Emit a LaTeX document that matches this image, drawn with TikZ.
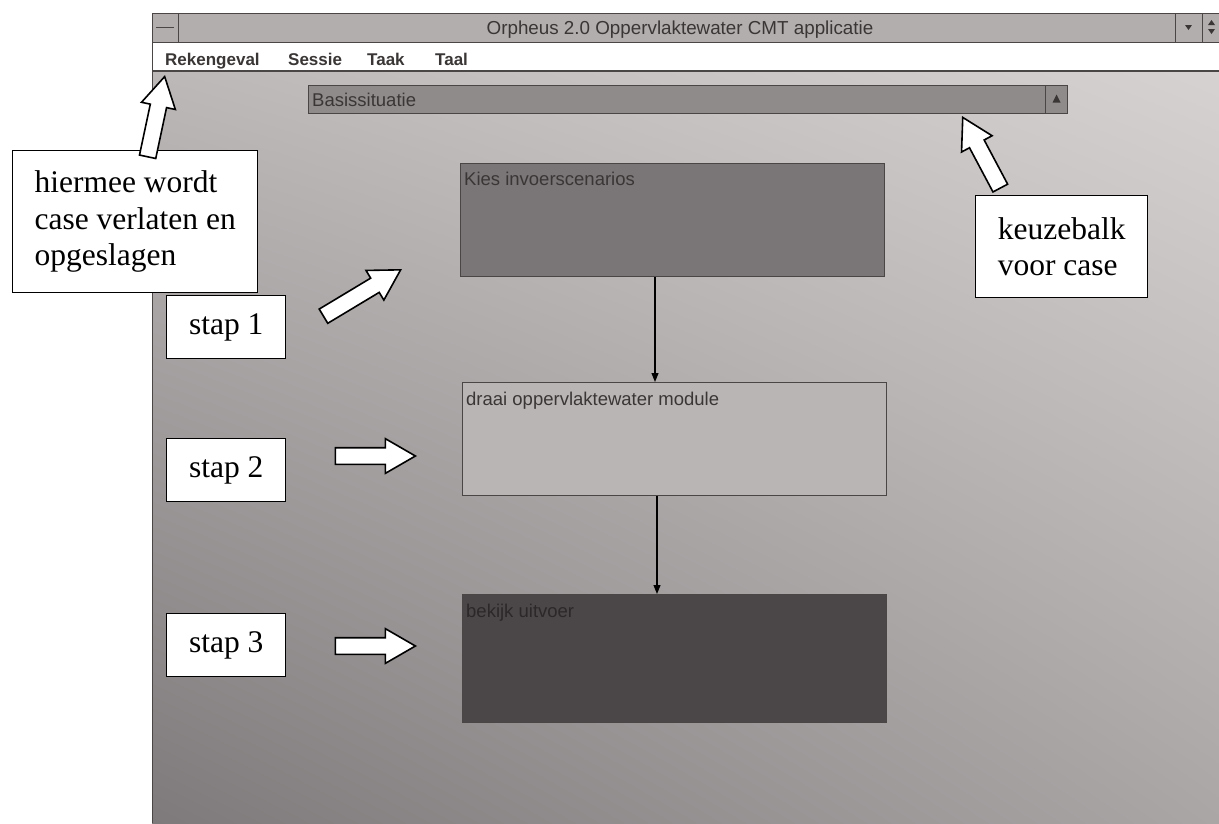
\documentclass[tikz,border=0pt]{standalone}
\usepackage{fontspec}
\setmainfont{Liberation Serif}
\newfontfamily\uifont{Liberation Sans}
\usetikzlibrary{shapes.arrows,arrows.meta,shadings}

\definecolor{deskTL}{HTML}{BDB8B8}
\definecolor{deskTR}{HTML}{D6D2D1}
\definecolor{deskBL}{HTML}{7E797A}
\definecolor{deskBR}{HTML}{ABA6A6}
\definecolor{titlegray}{HTML}{B2AEAE}
\definecolor{framegray}{HTML}{4A4646}
\definecolor{uitext}{HTML}{3A3636}
\definecolor{barfill}{HTML}{8F8B8B}
\definecolor{kiesfill}{HTML}{7A7677}
\definecolor{draaifill}{HTML}{BAB5B5}
\definecolor{uitvfill}{HTML}{4B4748}
\definecolor{uitvtext}{HTML}{2C2829}

\tikzset{
  frame/.style={draw=framegray, line width=1pt},
  menuitem/.style={anchor=base west, inner sep=0pt, text=uitext,
    font=\uifont\fontsize{17}{20}\selectfont\bfseries},
  taskbox/.style={draw=framegray, line width=1pt, anchor=north west,
    minimum width=424pt, minimum height=113pt, inner sep=0pt},
  tasklabel/.style={anchor=base west, inner sep=0pt,
    font=\uifont\fontsize{18.5}{22}\selectfont},
  conn/.style={draw=black, line width=1.1pt, -{Triangle[length=9pt,width=7pt]}},
  callout/.style={draw=black, line width=1.4pt, fill=white, anchor=north west,
    align=left, inner sep=0pt, font=\fontsize{31.5}{36.5}\selectfont},
  stepbox/.style={draw=black, line width=1.4pt, fill=white, anchor=north west,
    minimum width=119pt, minimum height=63pt, inner sep=0pt,
    font=\fontsize{31.5}{36.5}\selectfont},
  hollow/.style={single arrow, draw=black, fill=white, line width=1.6pt,
    inner xsep=0pt, inner ysep=7.5pt, minimum width=0pt,
    single arrow head extend=9pt, single arrow tip angle=60},
}

\begin{document}
\begin{tikzpicture}[x=1pt,y=-1pt]
\useasboundingbox (0,0) rectangle (1219,823);
\fill[white] (0,0) rectangle (1219,823);

% desktop area of the application window
\shade[upper left=deskTL, upper right=deskTR, lower left=deskBL, lower right=deskBR]
  (152,71) rectangle (1219,823);

% title bar
\fill[titlegray] (152,13) rectangle (1219,42);
\draw[frame] (152,13) -- (1219,13) (152,42) -- (1219,42) (152,13) -- (152,823);
\draw[frame] (178,13) -- (178,42);
\draw[framegray, line width=1.2pt] (156,27.5) -- (174,27.5);
\node[anchor=base, inner sep=0pt, text=uitext, font=\uifont\fontsize{18.8}{22}\selectfont]
  (title) at (680,34) {Orpheus 2.0 Oppervlaktewater CMT applicatie};
\draw[frame] (1175,13) -- (1175,42) (1202,13) -- (1202,42);
\fill[uitext] (1185,25) -- (1192,25) -- (1188.5,30) -- cycle;
\fill[uitext] (1208,25) -- (1215,25) -- (1211.5,20) -- cycle;
\fill[uitext] (1208,29) -- (1215,29) -- (1211.5,34) -- cycle;

% menu bar
\fill[white] (152.5,42.5) rectangle (1219,70);
\draw[framegray, line width=1.8pt] (152,71) -- (1219,71);
\node[menuitem] (mRek) at (165,65) {Rekengeval};
\node[menuitem] (mSes) at (288,65) {Sessie};
\node[menuitem] (mTaak) at (367,65) {Taak};
\node[menuitem] (mTaal) at (435,65) {Taal};

% case selection bar
\node[draw=framegray, line width=1pt, fill=barfill, anchor=north west,
  minimum width=759pt, minimum height=28pt, inner sep=0pt] (bar) at (308,85) {};
\node[anchor=base west, inner sep=0pt, text=uitext, font=\uifont\fontsize{18.5}{22}\selectfont]
  (barText) at (312,106) {Basissituatie};
\node[draw=framegray, line width=1pt, anchor=north east, minimum width=22pt,
  minimum height=28pt, inner sep=0pt] (barBtn) at (bar.north east) {};
\fill[uitext] ([xshift=-4pt,yshift=-3pt]barBtn.center) -- ([xshift=4pt,yshift=-3pt]barBtn.center)
  -- ([yshift=5pt]barBtn.center) -- cycle;

% task boxes
\node[taskbox, fill=kiesfill] (kies) at (460,163) {};
\node[tasklabel, text=uitext] (kiesText) at (464,185) {Kies invoerscenarios};
\node[taskbox, fill=draaifill] (draai) at (462,382) {};
\node[tasklabel, text=uitext] (draaiText) at (466,405) {draai oppervlaktewater module};
\node[taskbox, fill=uitvfill, minimum height=128pt] (uitv) at (462,594) {};
\node[tasklabel, text=uitvtext] (uitvText) at (466,617) {bekijk uitvoer};

\draw[conn] ([xshift=195pt]kies.south west) -- ([xshift=193pt]draai.north west);
\draw[conn] ([xshift=195pt]draai.south west) -- ([xshift=195pt]uitv.north west);

% explanatory callouts
\node[callout, minimum width=245pt, minimum height=142pt] (cMenu) at (12,150)
  {hiermee wordt\\case verlaten en\\opgeslagen};
\node[callout, minimum width=172pt, minimum height=102pt] (cBar) at (975,195)
  {keuzebalk\\voor case};

\node[stepbox] (s1) at (166,295) {stap 1};
\node[stepbox] (s2) at (166,438) {stap 2};
\node[stepbox] (s3) at (166,613) {stap 3};

% hollow pointer arrows
\node[hollow, rotate=78, minimum height=82pt, anchor=tip] (pMenu) at (165,75) {};
\node[hollow, rotate=118, minimum height=80pt, anchor=tip] (pBar) at (962,116) {};
\node[hollow, rotate=31, minimum height=90pt, anchor=tip] (p1) at (402,269) {};
\node[hollow, minimum height=80pt, anchor=tip] (p2) at (417,456) {};
\node[hollow, minimum height=80pt, anchor=tip] (p3) at (417,646) {};
\end{tikzpicture}
\end{document}
